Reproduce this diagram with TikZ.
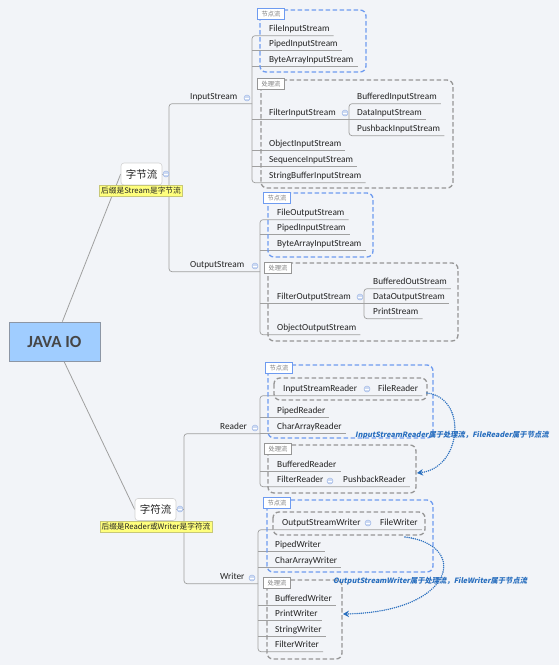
\documentclass[tikz,border=0pt]{standalone}
\usepackage{fontspec}
\setmainfont{Carlito}
\newfontfamily\cjk{Noto Sans CJK SC}
\newfontfamily\annf[FakeSlant=0.2]{Noto Sans CJK SC}
\usetikzlibrary{arrows.meta}
\definecolor{bg}{RGB}{242,244,248}
\definecolor{lineg}{RGB}{160,160,160}
\definecolor{txt}{RGB}{35,35,35}
\definecolor{bluebd}{RGB}{110,155,240}
\definecolor{graybd}{RGB}{150,150,150}
\definecolor{rootfill}{RGB}{160,205,255}
\definecolor{rootbd}{RGB}{140,150,165}
\definecolor{roottxt}{RGB}{70,70,70}
\definecolor{yel}{RGB}{255,255,125}
\definecolor{yelbd}{RGB}{200,200,120}
\definecolor{annc}{RGB}{40,110,190}
\definecolor{collf}{RGB}{205,218,242}
\definecolor{colld}{RGB}{165,188,232}
\definecolor{tagtxt}{RGB}{125,125,125}
\pgfdeclarelayer{back}
\pgfsetlayers{back,main}
\begin{document}
\begin{tikzpicture}[x=1pt,y=-1pt,
 tp/.style={anchor=west, inner xsep=4pt, inner ysep=2.5pt, text height=6pt, text depth=2pt, font=\fontsize{9.3}{10}\selectfont, text=txt},
 ul/.style={draw=lineg, line width=0.7pt, rounded corners=3pt},
 conn/.style={draw=lineg, line width=0.8pt},
 bluebox/.style={draw=bluebd, line width=1.3pt, dash pattern=on 4.5pt off 2.5pt, rounded corners=6pt},
 graybox/.style={draw=graybd, line width=1.3pt, dash pattern=on 4.5pt off 2.5pt, rounded corners=6pt},
 tagbase/.style={anchor=north west, minimum width=27pt, minimum height=11pt, inner sep=0pt, font=\cjk\fontsize{6.3}{7}\selectfont, text=tagtxt, fill=white, line width=1pt},
 btag/.style={tagbase, draw=bluebd},
 gtag/.style={tagbase, draw=graybd},
 coll/.style={circle, minimum size=6pt, inner sep=0pt, fill=collf, draw=colld, line width=0.5pt,
   path picture={\draw[white, line width=0.8pt] ([xshift=-1.6pt]path picture bounding box.center) -- ([xshift=1.6pt]path picture bounding box.center);}},
 rootn/.style={rectangle, minimum width=91pt, minimum height=39pt, fill=rootfill, draw=rootbd, line width=0.8pt, font=\bfseries\fontsize{17}{20}\selectfont, text=roottxt},
 mainb/.style={rectangle, minimum width=41pt, minimum height=22pt, inner sep=0pt, rounded corners=3pt, fill=white, draw=gray!35, line width=0.6pt, font=\cjk\fontsize{10.5}{12}\selectfont, text=txt},
 ylab/.style={rectangle, fill=yel, draw=yelbd, line width=0.6pt, minimum height=11pt, inner xsep=1.5pt, inner ysep=0pt, font=\cjk\fontsize{7.7}{9}\selectfont, text=txt},
 ann/.style={anchor=west, inner sep=0pt, font=\annf\bfseries\fontsize{7.3}{9}\selectfont, text=annc},
 dotarrow/.style={draw=annc, line width=1.6pt, dash pattern=on 0pt off 2.1pt, line cap=round, -{Stealth[length=6pt,width=6.5pt]}}
]
\begin{pgfonlayer}{back}
\fill[bg] (0,0) rectangle (559,665);
\end{pgfonlayer}
\useasboundingbox (0,0) rectangle (559,665);

% group boxes
\draw[bluebox] (260,10) rectangle (366,72);
\draw[graybox] (261,80) rectangle (453,188);
\draw[bluebox] (268,193) rectangle (373,257);
\draw[graybox] (268,263) rectangle (458,341);
\draw[bluebox] (268,365) rectangle (433,438);
\draw[graybox] (274,378) rectangle (427,400);
\draw[graybox] (268,445) rectangle (416,493);
\draw[bluebox] (267,500) rectangle (433,572);
\draw[graybox] (273,512) rectangle (425,535);
\draw[graybox] (267,580) rectangle (342,659);

% group tags
\node[btag] (t1) at (257,8) {节点流};
\node[gtag] (t2) at (257,78) {处理流};
\node[btag] (t3) at (263,192) {节点流};
\node[gtag] (t4) at (264,262) {处理流};
\node[btag] (t5) at (265,362) {节点流};
\node[gtag] (t6) at (264,443) {处理流};
\node[btag] (t7) at (263,497) {节点流};
\node[gtag] (t8) at (263,577) {处理流};

% root and main branches
\node[rootn] (root) at (54.5,341.5) {JAVA IO};
\node[mainb] (zj) at (141.5,174) {字节流};
\node[ylab] (zjl) at (141,190.5) {后缀是Stream是字节流};
\node[mainb] (zf) at (155.5,509.5) {字符流};
\node[ylab] (zfl) at (156,527) {后缀是Reader或Writer是字符流};

% byte streams
\node[tp] (ins) at (186,97) {InputStream};
\node[tp] (outs) at (186,265) {OutputStream};

\node[tp] (fis) at (265,29) {FileInputStream};
\node[tp] (pis) at (265,44) {PipedInputStream};
\node[tp] (bais) at (265,60) {ByteArrayInputStream};
\node[tp] (fil) at (265,113) {FilterInputStream};
\node[tp] (bis) at (353,97) {BufferedInputStream};
\node[tp] (dis) at (353,113) {DataInputStream};
\node[tp] (pbis) at (353,129) {PushbackInputStream};
\node[tp] (ois) at (265,144) {ObjectInputStream};
\node[tp] (sis) at (265,160) {SequenceInputStream};
\node[tp] (sbis) at (265,176) {StringBufferInputStream};

\node[tp] (fos) at (273,213) {FileOutputStream};
\node[tp] (pis2) at (273,228) {PipedInputStream};
\node[tp] (bais2) at (273,244) {ByteArrayInputStream};
\node[tp] (filo) at (273,297) {FilterOutputStream};
\node[tp] (bos) at (369,282) {BufferedOutStream};
\node[tp] (dos) at (369,297) {DataOutputStream};
\node[tp] (ps) at (369,312) {PrintStream};
\node[tp] (oos) at (273,328) {ObjectOutputStream};

% char streams
\node[tp] (rd) at (216,427) {Reader};
\node[tp] (wr) at (216,577) {Writer};

\node[tp] (isr) at (279,389) {InputStreamReader};
\node[tp] (fr) at (374,389) {FileReader};
\node[tp] (pr) at (273,411) {PipedReader};
\node[tp] (car) at (273,427) {CharArrayReader};
\node[tp] (br) at (273,465) {BufferedReader};
\node[tp] (filr) at (273,480) {FilterReader};
\node[tp] (pbr) at (339,480) {PushbackReader};

\node[tp] (osw) at (278,523) {OutputStreamWriter};
\node[tp] (fw) at (376,523) {FileWriter};
\node[tp] (pw) at (271,545) {PipedWriter};
\node[tp] (caw) at (271,561) {CharArrayWriter};
\node[tp] (bw) at (271,599) {BufferedWriter};
\node[tp] (prw) at (271,614) {PrintWriter};
\node[tp] (sw) at (271,630) {StringWriter};
\node[tp] (fiw) at (271,645) {FilterWriter};

% spine coordinates
\coordinate (zjs) at (169,0);
\coordinate (s1) at (252,0);
\coordinate (fs1) at (349,0);
\coordinate (os1) at (260,0);
\coordinate (fos1) at (364,0);
\coordinate (zfs) at (184,0);
\coordinate (r1) at (260,0);
\coordinate (w1) at (258,0);

\begin{pgfonlayer}{back}
\draw[conn] (root) -- (zj.west);
\draw[conn] (root) -- (zf.west);
% byte
\draw[ul] (zj.east) -- (zj.east -| zjs);
\draw[ul] (ins.south -| s1) -- (ins.south -| zjs) -- (outs.south -| zjs) -- (outs.south -| os1);
\draw[ul] (fis.south east) -- (fis.south -| s1) -- (sbis.south -| s1) -- (sbis.south east);
\foreach \n in {pis,bais,ois,sis} \draw[ul] (\n.south -| s1) -- (\n.south east);
\draw[ul] (fil.south -| s1) -- (fil.south -| fs1);
\draw[ul] (bis.south east) -- (bis.south -| fs1) -- (pbis.south -| fs1) -- (pbis.south east);
\draw[ul] (dis.south -| fs1) -- (dis.south east);
\draw[ul] (fos.south east) -- (fos.south -| os1) -- (oos.south -| os1) -- (oos.south east);
\foreach \n in {pis2,bais2} \draw[ul] (\n.south -| os1) -- (\n.south east);
\draw[ul] (filo.south -| os1) -- (filo.south -| fos1);
\draw[ul] (bos.south east) -- (bos.south -| fos1) -- (ps.south -| fos1) -- (ps.south east);
\draw[ul] (dos.south -| fos1) -- (dos.south east);
% char
\draw[ul] (zf.east) -- (zf.east -| zfs);
\draw[ul] (rd.south -| r1) -- (rd.south -| zfs) -- (wr.south -| zfs) -- (wr.south -| w1);
\draw[ul] (fr.south east) -- (isr.south -| r1) -- (filr.south -| r1) -- (pbr.south east);
\foreach \n in {pr,car,br} \draw[ul] (\n.south -| r1) -- (\n.south east);
\draw[ul] (fw.south east) -- (osw.south -| w1) -- (fiw.south -| w1) -- (fiw.south east);
\foreach \n in {pw,caw,bw,prw,sw} \draw[ul] (\n.south -| w1) -- (\n.south east);
\end{pgfonlayer}

% collapse markers
\node[coll] (c1) at (166,174) {};
\node[coll] (c2) at (247,98) {};
\node[coll] (c3) at (345,113) {};
\node[coll] (c4) at (255,266) {};
\node[coll] (c5) at (360,297) {};
\node[coll] (c6) at (180,509) {};
\node[coll] (c7) at (255,428) {};
\node[coll] (c8) at (367,389) {};
\node[coll] (c9) at (330,481) {};
\node[coll] (c10) at (252,578) {};
\node[coll] (c11) at (368,523) {};

% annotations
\node[ann] (a1) at (355,435) {InputStreamReader属于处理流，FileReader属于节点流};
\node[ann] (a2) at (333,581) {OutputStreamWriter属于处理流，FileWriter属于节点流};

\coordinate (d1s) at (427,393);
\coordinate (d1e) at (417,473);
\coordinate (d2s) at (405,537);
\coordinate (d2e) at (343,614);
\draw[dotarrow] (d1s) .. controls (468,398) and (462,468) .. (d1e);
\draw[dotarrow] (d2s) .. controls (470,545) and (455,612) .. (d2e);
\end{tikzpicture}
\end{document}
